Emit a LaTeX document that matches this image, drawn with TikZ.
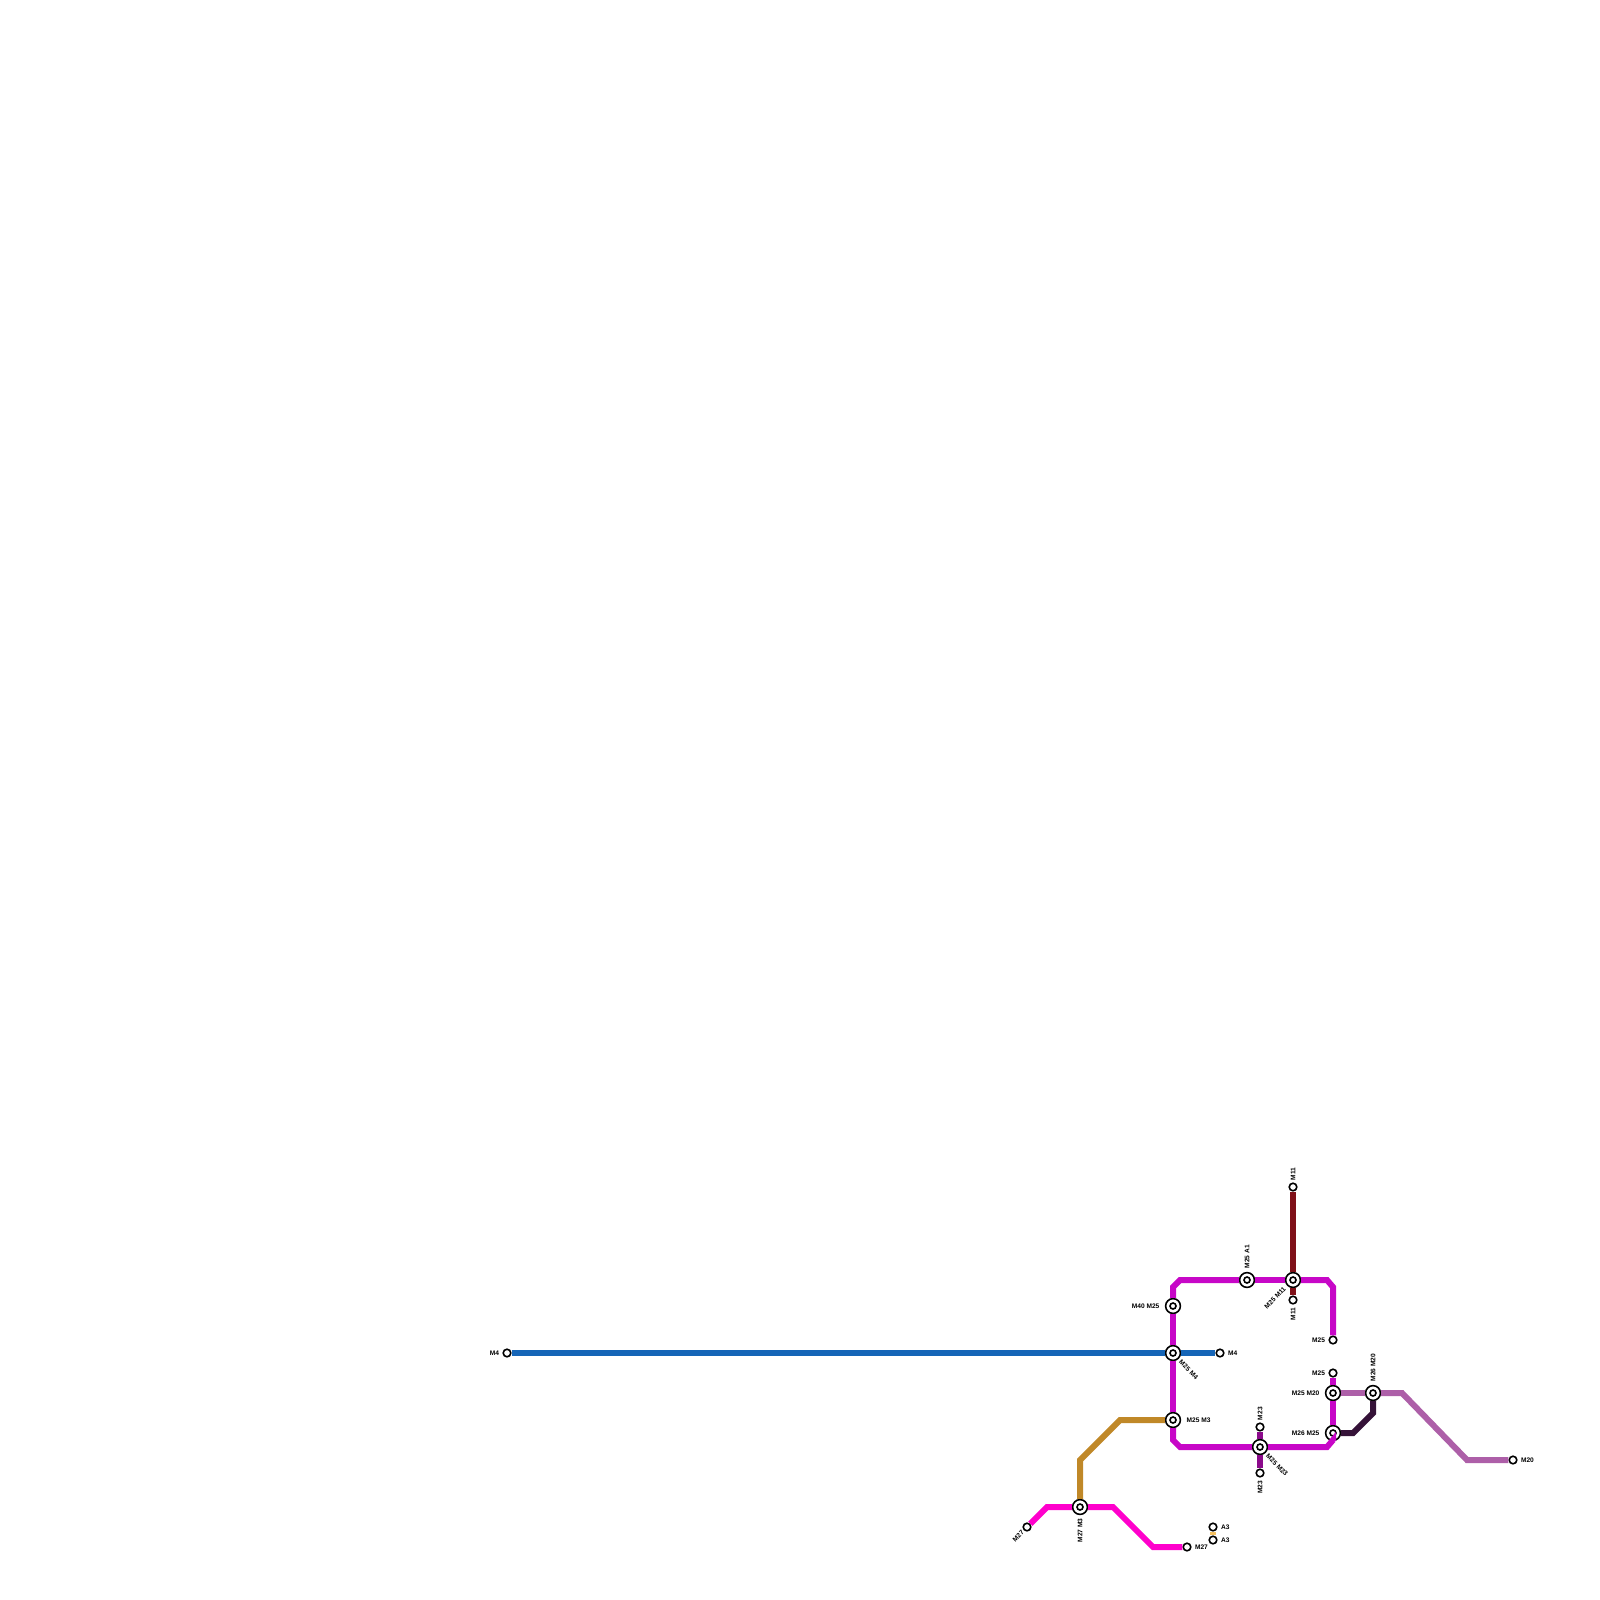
\documentclass[tikz,border=0pt]{standalone}
\usepackage{fontspec}
\setmainfont{Liberation Sans}
\usepackage{xcolor}
\usetikzlibrary{positioning}
\definecolor{RoadMfour}{HTML}{1565B7}
\definecolor{RoadMthree}{HTML}{C08828}
\definecolor{RoadMtf}{HTML}{C707C7}
\definecolor{RoadMts}{HTML}{FF00CC}
\definecolor{RoadMel}{HTML}{7F1018}
\definecolor{RoadMtt}{HTML}{8B0A8B}
\definecolor{RoadMtw}{HTML}{AD5FA8}
\definecolor{RoadMsix}{HTML}{351238}
\definecolor{RoadAt}{HTML}{F5C060}

\begin{document}
\begin{tikzpicture}[
  x=0.5pt, y=-0.5pt,
  node distance=1pt,
  road/.style={line width=3pt, line join=miter},
  term/.style={circle, draw=black, fill=white, line width=0.8pt, inner sep=0pt, minimum size=3.8pt},
  hub/.style={circle, draw=black, fill=white, line width=0.8pt, inner sep=0pt, minimum size=7.4pt,
    path picture={\draw[line width=0.8pt] (path picture bounding box.center) circle (1.5pt);}},
  lbl/.style={font=\fontsize{3.3pt}{3.6pt}\selectfont\bfseries, inner sep=0pt},
  lblup/.style={lbl, rotate=90, anchor=west},
  lbldown/.style={lbl, rotate=90, anchor=east},
  lbldr/.style={lbl, rotate=-45, anchor=west},
  lbldl/.style={lbl, rotate=45, anchor=east}
]
\useasboundingbox (0,0) rectangle (1600,1600);

% junctions
\node[hub] (mfortyMtf) at (1173,1306) {};
\node[hub] (mtfMfour) at (1173,1353) {};
\node[hub] (mtfMthree) at (1173,1420) {};
\node[hub] (mtfAone) at (1247,1280) {};
\node[hub] (mtfMel) at (1293,1280) {};
\node[hub] (mtfMtt) at (1260,1447) {};
\node[hub] (mtfMtw) at (1333,1393) {};
\node[hub] (msixMtf) at (1333,1433) {};
\node[hub] (msixMtw) at (1373,1393) {};
\node[hub] (mtsMthree) at (1080,1507) {};

% road ends
\node[term] (mfourW) at (507,1353) {};
\node[term] (mfourE) at (1220,1353) {};
\node[term] (melN) at (1293,1187) {};
\node[term] (melS) at (1293,1300) {};
\node[term] (mtfEndN) at (1333,1340) {};
\node[term] (mtfEndS) at (1333,1373) {};
\node[term] (mttN) at (1260,1427) {};
\node[term] (mttS) at (1260,1473) {};
\node[term] (mtwE) at (1513,1460) {};
\node[term] (mtsW) at (1027,1527) {};
\node[term] (mtsE) at (1187,1547) {};
\node[term] (atN) at (1213,1527) {};
\node[term] (atS) at (1213,1540) {};

% bends
\coordinate (bendNW) at (1180,1280);
\coordinate (bendNWb) at (1173,1287);
\coordinate (bendNE) at (1327,1280);
\coordinate (bendNEb) at (1333,1287);
\coordinate (bendSW) at (1173,1440);
\coordinate (bendSWb) at (1180,1447);
\coordinate (bendSE) at (1327,1447);
\coordinate (bendSEb) at (1333,1440);
\coordinate (bendMthreeA) at (1120,1420);
\coordinate (bendMthreeB) at (1080,1460);
\coordinate (bendMtsA) at (1047,1507);
\coordinate (bendMtsB) at (1113,1507);
\coordinate (bendMtsC) at (1153,1547);
\coordinate (bendMtwA) at (1402,1393);
\coordinate (bendMtwB) at (1467,1460);
\coordinate (bendMsixA) at (1353,1433);
\coordinate (bendMsixB) at (1373,1413);

% roads
\draw[road, RoadAt] (atN) -- (atS);
\draw[road, RoadMfour] (mfourW) -- (mtfMfour);
\draw[road, RoadMfour] (mtfMfour) -- (mfourE);
\draw[road, RoadMel] (melN) -- (mtfMel);
\draw[road, RoadMel] (mtfMel) -- (melS);
\draw[road, RoadMtt] (mttN) -- (mtfMtt);
\draw[road, RoadMtt] (mtfMtt) -- (mttS);
\draw[road, RoadMthree] (mtfMthree) -- (bendMthreeA) -- (bendMthreeB) -- (mtsMthree);
\draw[road, RoadMts] (mtsW) -- (bendMtsA) -- (mtsMthree);
\draw[road, RoadMts] (mtsMthree) -- (bendMtsB) -- (bendMtsC) -- (mtsE);
\draw[road, RoadMtw] (mtfMtw) -- (msixMtw);
\draw[road, RoadMtw] (msixMtw) -- (bendMtwA) -- (bendMtwB) -- (mtwE);
\draw[road, RoadMsix] (msixMtf) -- (bendMsixA) -- (bendMsixB) -- (msixMtw);
\draw[road, RoadMtf] (mfortyMtf) -- (bendNWb) -- (bendNW) -- (mtfAone);
\draw[road, RoadMtf] (mtfAone) -- (mtfMel);
\draw[road, RoadMtf] (mtfMel) -- (bendNE) -- (bendNEb) -- (mtfEndN);
\draw[road, RoadMtf] (mfortyMtf) -- (mtfMfour);
\draw[road, RoadMtf] (mtfMfour) -- (mtfMthree);
\draw[road, RoadMtf] (mtfMthree) -- (bendSW) -- (bendSWb) -- (mtfMtt);
\draw[road, RoadMtf] (mtfMtt) -- (bendSE) -- (bendSEb) -- (msixMtf);
\draw[road, RoadMtf] (mtfEndS) -- (mtfMtw);
\draw[road, RoadMtf] (mtfMtw) -- (msixMtf);

% labels
\node[lbl, left=2.5pt of mfortyMtf] (lblMfortyMtf) {M40 M25};
\node[lbldr] (lblMtfMfour) at (1180,1361) {M25 M4};
\node[lbl, right=2.5pt of mtfMthree] (lblMtfMthree) {M25 M3};
\node[lblup, above=1.5pt of mtfAone, anchor=west] (lblMtfAone) {M25 A1};
\node[lbldl] (lblMtfMel) at (1285,1288) {M25 M11};
\node[lbldr] (lblMtfMtt) at (1267,1455) {M25 M23};
\node[lbl, left=2.5pt of mtfMtw] (lblMtfMtw) {M25 M20};
\node[lbl, left=2.5pt of msixMtf] (lblMsixMtf) {M26 M25};
\node[lblup, above=1.5pt of msixMtw, anchor=west] (lblMsixMtw) {M26 M20};
\node[lbldown, below=1.5pt of mtsMthree, anchor=east] (lblMtsMthree) {M27 M3};
\node[lbl, left=1.5pt of mfourW] (lblMfourW) {M4};
\node[lbl, right=1.5pt of mfourE] (lblMfourE) {M4};
\node[lblup, above=1pt of melN, anchor=west] (lblMelN) {M11};
\node[lbldown, below=1.5pt of melS, anchor=east] (lblMelS) {M11};
\node[lbl, left=1.5pt of mtfEndN] (lblMtfEndN) {M25};
\node[lbl, left=1.5pt of mtfEndS] (lblMtfEndS) {M25};
\node[lblup, above=1pt of mttN, anchor=west] (lblMttN) {M23};
\node[lbldown, below=1.5pt of mttS, anchor=east] (lblMttS) {M23};
\node[lbl, right=1.5pt of mtwE] (lblMtwE) {M20};
\node[lbldl] (lblMtsW) at (1023,1531) {M27};
\node[lbl, right=1.5pt of mtsE] (lblMtsE) {M27};
\node[lbl, right=1.5pt of atN] (lblAtN) {A3};
\node[lbl, right=1.5pt of atS] (lblAtS) {A3};
\end{tikzpicture}
\end{document}
